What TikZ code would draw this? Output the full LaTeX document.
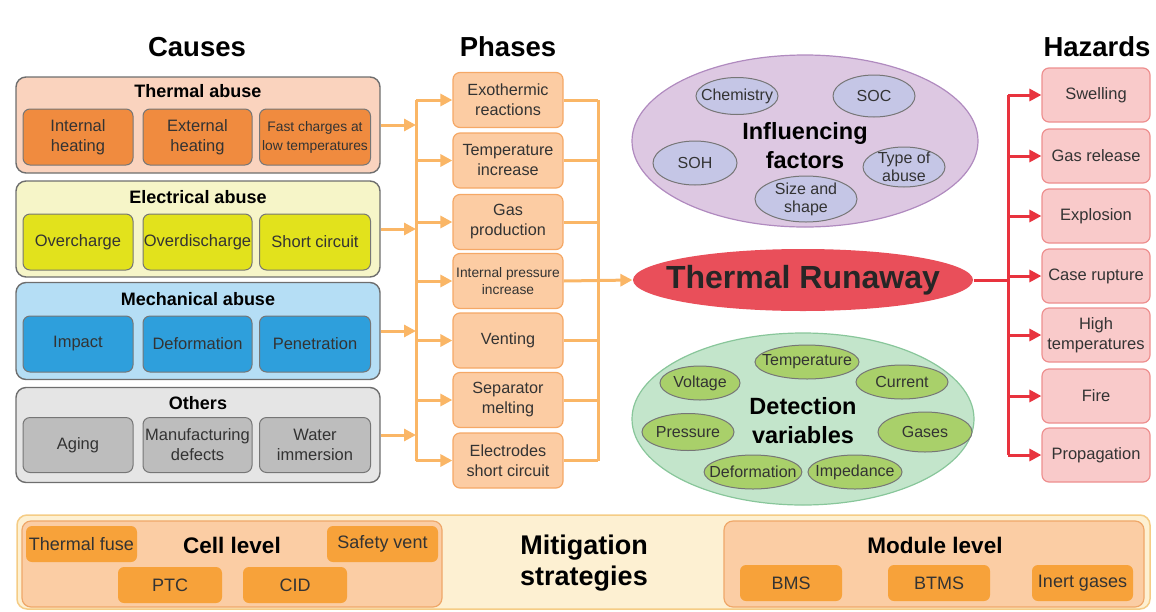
\documentclass[tikz,border=0pt]{standalone}
\usepackage{fontspec}
\setmainfont{Liberation Sans}
\usetikzlibrary{shapes.geometric,arrows.meta}
\definecolor{grpline}{HTML}{6E6E6E}
\definecolor{cellline}{HTML}{767676}
\definecolor{textgray}{HTML}{333333}
\definecolor{thermbg}{HTML}{FAD3BE}
\definecolor{thermin}{HTML}{F08B3F}
\definecolor{elecbg}{HTML}{F6F5C8}
\definecolor{elecin}{HTML}{E2E21C}
\definecolor{mechbg}{HTML}{B5DEF5}
\definecolor{mechin}{HTML}{2E9FDC}
\definecolor{othbg}{HTML}{E5E5E5}
\definecolor{othin}{HTML}{BDBDBD}
\definecolor{phasefill}{HTML}{FCCCA3}
\definecolor{phaseline}{HTML}{F5A866}
\definecolor{hazfill}{HTML}{F9CACA}
\definecolor{hazline}{HTML}{EE8F8F}
\definecolor{inflbg}{HTML}{DDC8E2}
\definecolor{inflline}{HTML}{B08ABF}
\definecolor{inflsm}{HTML}{C5C6E6}
\definecolor{detbg}{HTML}{C3E5CB}
\definecolor{detline}{HTML}{88C69A}
\definecolor{detsm}{HTML}{A9D06A}
\definecolor{trfill}{HTML}{E94F5A}
\definecolor{mitbg}{HTML}{FDF0D2}
\definecolor{mitline}{HTML}{F5CC85}
\definecolor{lvlfill}{HTML}{FBCDA4}
\definecolor{lvlline}{HTML}{EFA769}
\definecolor{mitin}{HTML}{F7A23A}
\definecolor{conorange}{HTML}{FAB666}
\definecolor{conred}{HTML}{E8333E}
\newcommand{\fsz}[2]{\fontsize{#1}{#2}\selectfont}
\begin{document}
\begin{tikzpicture}[x=1pt,y=-1pt,
  heading/.style={font=\fsz{27.5}{30}\bfseries, text=black, inner sep=0pt},
  grp/.style={draw=grpline, line width=1.4pt, rounded corners=10pt, inner sep=0pt},
  grptitle/.style={font=\fsz{18}{21}\bfseries, text=black, inner sep=0pt},
  cell/.style={draw=cellline, line width=1pt, rounded corners=7pt, minimum height=56pt, inner sep=0pt, align=center, font=\fsz{16.5}{20}, text=textgray},
  phase/.style={fill=phasefill, draw=phaseline, line width=1.2pt, rounded corners=7pt, minimum width=110pt, minimum height=55pt, inner sep=0pt, align=center, font=\fsz{16.2}{20}, text=textgray},
  hazard/.style={fill=hazfill, draw=hazline, line width=1.2pt, rounded corners=7pt, minimum width=108pt, minimum height=54pt, inner sep=0pt, align=center, font=\fsz{16.5}{20}, text=textgray},
  bigell/.style={ellipse, line width=1.2pt, inner sep=0pt},
  smell/.style={ellipse, draw=cellline, line width=1pt, inner xsep=-9pt, inner ysep=-3pt, align=center, font=\fsz{16}{18}, text=textgray},
  ctitle/.style={font=\fsz{23.5}{29}\bfseries, text=black, align=center, inner sep=0pt},
  lvl/.style={fill=lvlfill, draw=lvlline, line width=1.2pt, rounded corners=9pt, minimum width=420pt, minimum height=86pt, inner sep=0pt},
  mit/.style={fill=mitin, rounded corners=6pt, minimum height=36pt, inner sep=0pt, font=\fsz{18}{20}, text=textgray},
  oline/.style={draw=conorange, line width=3pt},
  oarr/.style={oline, -{Triangle[length=12pt,width=12pt]}},
  rline/.style={draw=conred, line width=3pt},
  rarr/.style={rline, -{Triangle[length=12pt,width=12pt]}}
]
\useasboundingbox (0,0) rectangle (1156,611);

% headings
\node[heading] (hcauses) at (197,47) {Causes};
\node[heading] (hphases) at (508,47) {Phases};
\node[heading] (hhaz) at (1097,47) {Hazards};

% cause groups
\node[grp, fill=thermbg, minimum width=364pt, minimum height=96pt] (thermal) at (198,125) {};
\node[grptitle] (thermalT) at (198,91) {Thermal abuse};
\node[cell, fill=thermin, minimum width=110pt] (c11) at (78,137) {Internal\\heating};
\node[cell, fill=thermin, minimum width=109pt] (c12) at (197.5,137) {External\\heating};
\node[cell, fill=thermin, minimum width=111pt, font=\fsz{13.8}{19}] (c13) at (315,137) {Fast charges at\\low temperatures};

\node[grp, fill=elecbg, minimum width=364pt, minimum height=96pt] (electrical) at (198,229) {};
\node[grptitle] (electricalT) at (198,197) {Electrical abuse};
\node[cell, fill=elecin, minimum width=110pt] (c21) at (78,242) {Overcharge};
\node[cell, fill=elecin, minimum width=109pt] (c22) at (197.5,242) {Overdischarge};
\node[cell, fill=elecin, minimum width=111pt] (c23) at (315,242) {Short circuit};

\node[grp, fill=mechbg, minimum width=364pt, minimum height=97pt] (mechanical) at (198,331) {};
\node[grptitle] (mechanicalT) at (198,299) {Mechanical abuse};
\node[cell, fill=mechin, minimum width=110pt] (c31) at (78,344) {Impact};
\node[cell, fill=mechin, minimum width=109pt] (c32) at (197.5,344) {Deformation};
\node[cell, fill=mechin, minimum width=111pt] (c33) at (315,344) {Penetration};

\node[grp, fill=othbg, minimum width=364pt, minimum height=95pt] (others) at (198,435) {};
\node[grptitle] (othersT) at (198,403) {Others};
\node[cell, fill=othin, minimum width=110pt, minimum height=55pt] (c41) at (78,445) {Aging};
\node[cell, fill=othin, minimum width=109pt, minimum height=55pt] (c42) at (197.5,445) {Manufacturing\\defects};
\node[cell, fill=othin, minimum width=111pt, minimum height=55pt] (c43) at (315,445) {Water\\immersion};

% phases
\node[phase] (p1) at (508,100) {Exothermic\\reactions};
\node[phase] (p2) at (508,160.5) {Temperature\\increase};
\node[phase] (p3) at (508,222) {Gas\\production};
\node[phase, font=\fsz{13.8}{17}] (p4) at (508,281) {Internal pressure\\increase};
\node[phase] (p5) at (508,340.5) {Venting};
\node[phase] (p6) at (508,400) {Separator\\melting};
\node[phase] (p7) at (508,460.5) {Electrodes\\short circuit};

% left bus
\coordinate (bl1) at (416,100);
\coordinate (bl2) at (416,460.5);
\draw[oline] (bl1) -- (bl2);
\foreach \g in {thermal,electrical,mechanical,others}
  \draw[oarr] (\g.east) -- (\g.east -| bl1);
\foreach \p in {p1,p2,p3,p4,p5,p6,p7}
  \draw[oarr] (\p.west -| bl1) -- (\p.west);

% right bus
\coordinate (br1) at (598,100);
\coordinate (br2) at (598,460.5);
\draw[oline] (br1) -- (br2);
\foreach \p in {p1,p2,p3,p5,p6,p7}
  \draw[oline] (\p.east) -- (\p.east -| br1);

% influencing factors
\node[bigell, fill=inflbg, draw=inflline, minimum width=346pt, minimum height=172pt] (infl) at (805,141) {};
\node[ctitle] (inflT) at (805,146) {Influencing\\factors};
\node[smell, fill=inflsm, minimum width=82pt, minimum height=37pt] (i1) at (737,96) {Chemistry};
\node[smell, fill=inflsm, minimum width=82pt, minimum height=42pt] (i2) at (874,96) {SOC};
\node[smell, fill=inflsm, minimum width=84pt, minimum height=44pt] (i3) at (695,163) {SOH};
\node[smell, fill=inflsm, minimum width=82pt, minimum height=40pt] (i4) at (904,167) {Type of\\abuse};
\node[smell, fill=inflsm, minimum width=102pt, minimum height=46pt] (i5) at (806,199) {Size and\\shape};

% thermal runaway
\node[bigell, fill=trfill, minimum width=340pt, minimum height=62pt] (tr) at (803,280) {};
\node[font=\fsz{32}{34}\bfseries, text=black!85, inner sep=0pt] (trT) at (tr.center) {Thermal Runaway};
\draw[oarr] (p4.east) -- (tr.west);

% detection variables
\node[bigell, fill=detbg, draw=detline, minimum width=342pt, minimum height=172pt] (det) at (803,419) {};
\node[ctitle] (detT) at (803,421) {Detection\\variables};
\node[smell, fill=detsm, minimum width=104pt, minimum height=34pt] (d1) at (807,362) {Temperature};
\node[smell, fill=detsm, minimum width=80pt, minimum height=34pt] (d2) at (700,383) {Voltage};
\node[smell, fill=detsm, minimum width=92pt, minimum height=34pt] (d3) at (902,382) {Current};
\node[smell, fill=detsm, minimum width=92pt, minimum height=37pt] (d4) at (688,432) {Pressure};
\node[smell, fill=detsm, minimum width=94pt, minimum height=40pt] (d5) at (925,432) {Gases};
\node[smell, fill=detsm, minimum width=88pt, minimum height=34pt] (d6) at (753,472) {Deformation};
\node[smell, fill=detsm, minimum width=94pt, minimum height=34pt] (d7) at (855,472) {Impedance};

% hazards
\node[hazard] (h1) at (1096,95) {Swelling};
\node[hazard] (h2) at (1096,156) {Gas release};
\node[hazard] (h3) at (1096,216) {Explosion};
\node[hazard] (h4) at (1096,276) {Case rupture};
\node[hazard] (h5) at (1096,335) {High\\temperatures};
\node[hazard] (h6) at (1096,396) {Fire};
\node[hazard] (h7) at (1096,455) {Propagation};
\coordinate (rb1) at (1008,95);
\coordinate (rb2) at (1008,455);
\draw[rline] (rb1) -- (rb2);
\draw[rline] (tr.east) -- (tr.east -| rb1);
\foreach \h in {h1,h2,h3,h4,h5,h6,h7}
  \draw[rarr] (\h.west -| rb1) -- (\h.west);

% mitigation
\node[fill=mitbg, draw=mitline, line width=1.5pt, rounded corners=10pt, minimum width=1133pt, minimum height=94pt, inner sep=0pt] (mitig) at (583.5,562) {};
\node[ctitle, font=\fsz{27}{31}\bfseries] (mitT) at (584,563) {Mitigation\\strategies};
\node[lvl] (cell) at (232,564) {};
\node[grptitle, font=\fsz{22.5}{24}\bfseries] (cellT) at (232,545) {Cell level};
\node[mit, minimum width=111pt] (m1) at (81.5,544) {Thermal fuse};
\node[mit, minimum width=111pt] (m2) at (382.5,544) {Safety vent};
\node[mit, minimum width=104pt] (m3) at (170,585) {PTC};
\node[mit, minimum width=104pt] (m4) at (295,585) {CID};
\node[lvl] (module) at (934,564) {};
\node[grptitle, font=\fsz{22.5}{24}\bfseries] (moduleT) at (935,545) {Module level};
\node[mit, minimum width=102pt] (m5) at (791,583) {BMS};
\node[mit, minimum width=102pt] (m6) at (939,583) {BTMS};
\node[mit, minimum width=101pt] (m7) at (1082.5,583) {Inert gases};
\end{tikzpicture}
\end{document}
